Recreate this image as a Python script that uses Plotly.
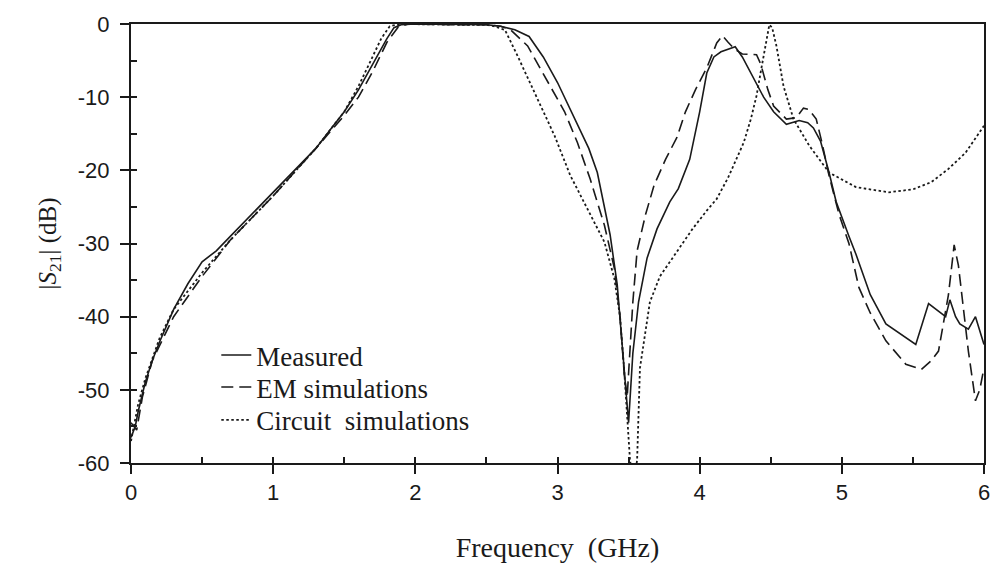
import plotly.graph_objects as go

# ---- data (frequency in GHz, |S21| in dB) ----
meas_f = [0.0, 0.03, 0.05, 0.1, 0.15, 0.2, 0.3, 0.4, 0.5, 0.6, 0.7, 0.8, 0.9, 1.0, 1.1, 1.2, 1.3, 1.4,
          1.5, 1.6, 1.7, 1.8, 1.85, 1.9, 2.0, 2.3, 2.5, 2.6, 2.7, 2.8, 2.9, 3.0, 3.1, 3.16, 3.22, 3.28,
          3.37, 3.42, 3.46, 3.5, 3.53, 3.57, 3.63, 3.7, 3.79, 3.85, 3.93, 4.0, 4.05, 4.1, 4.15, 4.25,
          4.3, 4.38, 4.45, 4.52, 4.61, 4.7, 4.76, 4.8, 4.85, 4.91, 4.96, 5.05, 5.1, 5.2, 5.31, 5.52,
          5.61, 5.73, 5.76, 5.8, 5.83, 5.89, 5.94, 6.0]
meas_db = [-56.5, -55, -53, -49, -46, -43.5, -39, -35.5, -32.5, -31, -29, -27, -25, -23, -21, -19, -17, -14.5,
           -12, -9, -5.5, -2, -0.5, -0.1, 0, -0.1, -0.1, -0.3, -0.8, -1.7, -4.5, -8, -12, -14.4, -17, -20.3,
           -28.8, -35.6, -45, -54.5, -45, -38, -32, -28, -24.3, -22.5, -18.5, -12, -6.7, -4.5, -3.8, -3.1,
           -4.5, -7.5, -10, -12, -13.7, -13.2, -13.5, -14.2, -16, -20.3, -24.3, -29, -31.5, -37, -41, -43.8,
           -38.2, -40, -37.7, -40, -41, -41.7, -40, -43.8]

em_f = [0.0, 0.04, 0.08, 0.15, 0.2, 0.3, 0.5, 0.7, 1.0, 1.3, 1.5, 1.6, 1.7, 1.8, 1.88, 1.95, 2.3, 2.5,
        2.6, 2.67, 2.79, 2.91, 3.05, 3.14, 3.23, 3.33, 3.4, 3.44, 3.47, 3.49, 3.51, 3.53, 3.56, 3.62,
        3.68, 3.76, 3.84, 3.9, 3.97, 4.05, 4.12, 4.16, 4.2, 4.25, 4.3, 4.4, 4.43, 4.48, 4.52, 4.61,
        4.68, 4.73, 4.77, 4.82, 4.86, 4.91, 4.98, 5.05, 5.12, 5.2, 5.31, 5.45, 5.56, 5.63, 5.68, 5.72,
        5.75, 5.79, 5.82, 5.85, 5.89, 5.94, 5.97, 6.0]
em_db = [-54.5, -55.5, -51, -46, -44, -40, -34.5, -29.5, -23.5, -17, -12.5, -10, -6.5, -2.5, -0.4, 0, -0.1, -0.1,
         -0.3, -0.8, -3, -7.1, -12, -16.2, -21.2, -27.5, -33.4, -40, -48, -51, -45, -38, -31, -26,
         -22, -18.5, -15.5, -12, -9, -6, -2.6, -1.6, -2.5, -3.5, -4.1, -4.2, -5.5, -9, -11.2, -13,
         -12.8, -11.5, -11.7, -13, -16.2, -20.7, -26, -30, -36, -39.5, -43.3, -46.5, -47.2, -46, -44.7, -40,
         -37, -30.2, -33, -38, -44.7, -51.5, -50, -47]

circ_f = [0.0, 0.05, 0.1, 0.2, 0.3, 0.5, 0.7, 1.0, 1.3, 1.5, 1.6, 1.7, 1.76, 1.82, 1.9, 2.3, 2.5, 2.55,
          2.63, 2.72, 2.84, 2.98, 3.09, 3.21, 3.33, 3.4, 3.44, 3.47, 3.51, 3.535, 3.56, 3.58, 3.65, 3.72,
          3.79, 3.84, 3.95, 4.05, 4.12, 4.2, 4.31, 4.36, 4.4, 4.43, 4.46, 4.49, 4.51, 4.54, 4.59, 4.66,
          4.77, 4.91, 5.1, 5.33, 5.5, 5.63, 5.75, 5.87, 6.0]
circ_db = [-57, -52, -48.5, -43, -39, -34, -29.5, -23.5, -17, -12, -8.5, -4.5, -2, -0.3, 0, -0.1, -0.1, -0.3,
           -0.8, -4.4, -9.4, -15.3, -20.7, -25.3, -29.8, -34.8, -40, -47.6, -59.6, -63, -59.6, -47, -38, -34.5,
           -32.5, -31, -28, -25.5, -23.9, -21, -16.2, -13, -9.8, -6.5, -3.1, -0.1, -0.5, -3, -8.5, -13,
           -16.6, -20.3, -22.3, -23, -22.6, -21.6, -19.8, -17.6, -13.9]

x_ticks = [0, 1, 2, 3, 4, 5, 6]
y_ticks = [0, -10, -20, -30, -40, -50, -60]

INK = "#1a1a1a"
fig = go.Figure()
fig.add_trace(go.Scatter(x=meas_f, y=meas_db, mode="lines", name="Measured", legend="legend",
                         line=dict(color=INK, width=1.6)))
fig.add_trace(go.Scatter(x=em_f, y=em_db, mode="lines", name="EM simulations", legend="legend2",
                         line=dict(color=INK, width=1.6, dash="12px,6px")))
fig.add_trace(go.Scatter(x=circ_f, y=circ_db, mode="lines", name="Circuit\u00a0 simulations", legend="legend3",
                         line=dict(color=INK, width=1.8, dash="2.5px,2.5px")))
# helper (empty) trace so the inside-tick overlay axes are drawn
fig.add_trace(go.Scatter(x=[None], y=[None], xaxis="x2", yaxis="y2", showlegend=False,
                         hoverinfo="skip", mode="lines"))

tickfont = dict(family="Liberation Sans, Arial, sans-serif", size=22, color=INK)
serif = "Liberation Serif, Times New Roman, serif"

def leg(ypos):
    return dict(x=0.1, y=ypos, xanchor="left", yanchor="middle",
                bgcolor="rgba(0,0,0,0)", borderwidth=0,
                font=dict(family=serif, size=27, color=INK), itemwidth=30)

fig.update_layout(
    width=1002, height=575,
    margin=dict(l=131, r=13, t=21, b=112, pad=0),
    paper_bgcolor="white", plot_bgcolor="white",
    showlegend=True,
    legend=leg(0.245), legend2=leg(0.172), legend3=leg(0.097),
    xaxis=dict(range=[0, 6], tickvals=x_ticks, ticktext=[str(v) for v in x_ticks],
               ticks="outside", ticklen=9, tickwidth=2, tickcolor=INK,
               showline=True, linewidth=2, linecolor=INK, mirror=True,
               showgrid=False, zeroline=False, tickfont=tickfont,
               title=dict(text="Frequency\u00a0\u00a0(GHz)", font=dict(family=serif, size=28, color=INK),
                          standoff=33)),
    yaxis=dict(range=[-60, 0], tickvals=y_ticks, ticktext=[str(v) + "\u00a0" for v in y_ticks],
               ticks="outside", ticklen=9, tickwidth=2, tickcolor=INK,
               showline=True, linewidth=2, linecolor=INK, mirror=True,
               showgrid=False, zeroline=False, tickfont=tickfont,
               title=dict(text="|<i>S</i><sub>21</sub>| (dB)", font=dict(family=serif, size=25, color=INK),
                          standoff=14)),
    xaxis2=dict(range=[0, 6], overlaying="x", anchor="y2", side="bottom", dtick=0.5, tick0=0,
                ticks="inside", ticklen=6, tickwidth=2, tickcolor=INK, showticklabels=False,
                showline=False, showgrid=False, zeroline=False),
    yaxis2=dict(range=[-60, 0], overlaying="y", anchor="x2", side="left", dtick=5, tick0=0,
                ticks="inside", ticklen=6, tickwidth=2, tickcolor=INK, showticklabels=False,
                showline=False, showgrid=False, zeroline=False),
)

fig.write_html("out.html")
